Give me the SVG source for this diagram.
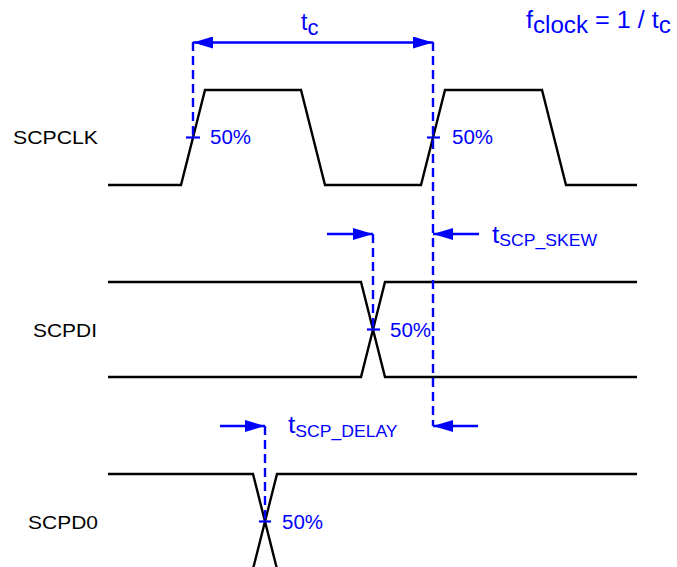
<svg xmlns="http://www.w3.org/2000/svg" width="677" height="567" viewBox="0 0 677 567">
<style>
.wave{fill:none;stroke:#000;stroke-width:2.4;stroke-linejoin:miter}
.dash{fill:none;stroke:#0000ff;stroke-width:2.4;stroke-dasharray:9,5}
.dim{fill:none;stroke:#0000ff;stroke-width:2.4}
.tick{stroke:#0000ff;stroke-width:2.2}
.lbl{font-family:"Liberation Sans",Arial,sans-serif;font-size:18.5px;fill:#000}
.blue{font-family:"Liberation Sans",Arial,sans-serif;fill:#0000ff}
</style>
<defs>
<marker id="ah" markerUnits="userSpaceOnUse" markerWidth="20" markerHeight="12" refX="20" refY="6" orient="auto-start-reverse" viewBox="0 0 20 12">
<path d="M0,0 L20,6 L0,12 Z" fill="#0000ff"/>
</marker>
</defs>
<rect width="677" height="567" fill="#fff"/>

<g id="scpclk">
<text class="lbl" x="13" y="143.5" textLength="85" lengthAdjust="spacingAndGlyphs">SCPCLK</text>
<polyline class="wave" points="108,185 181,185 205,90 301,90 325,185 421,185 445,90 542,90 566,185 637,185"/>
</g>

<g id="scpdi">
<text class="lbl" x="33" y="337" textLength="64" lengthAdjust="spacingAndGlyphs">SCPDI</text>
<polyline class="wave" points="108,282 361,282 385,377 637,377"/>
<polyline class="wave" points="108,377 361,377 385,282 637,282"/>
</g>

<g id="scpd0">
<text class="lbl" x="28" y="528.5" textLength="70" lengthAdjust="spacingAndGlyphs">SCPD0</text>
<polyline class="wave" points="108,474 253,474 277,569"/>
<polyline class="wave" points="253,569 277,474 637,474"/>
</g>

<g id="tc-label">
<text class="blue" transform="translate(301,30)" font-size="23">t<tspan font-size="22" dy="5">c</tspan></text>
</g>

<g id="fclock-label">
<text class="blue" transform="translate(526,28) scale(1.05,1)" font-size="24">f<tspan font-size="23" dy="5">clock</tspan><tspan dy="-5"> = 1 / t</tspan><tspan font-size="23" dy="5">c</tspan></text>
</g>

<g id="skew-label">
<text class="blue" transform="translate(492,243) scale(1.1,1)" font-size="24">t<tspan font-size="16" dy="3">SCP_SKEW</tspan></text>
</g>

<g id="delay-label">
<text class="blue" transform="translate(288,433) scale(1.1,1)" font-size="24">t<tspan font-size="16" dy="4">SCP_DELAY</tspan></text>
</g>

<g id="pct-labels">
<text class="blue" x="210" y="144" font-size="19.5" textLength="41" lengthAdjust="spacingAndGlyphs">50%</text>
<text class="blue" x="452" y="144" font-size="19.5" textLength="41" lengthAdjust="spacingAndGlyphs">50%</text>
<text class="blue" x="390" y="337" font-size="19.5" textLength="41" lengthAdjust="spacingAndGlyphs">50%</text>
<text class="blue" x="282" y="529" font-size="19.5" textLength="41" lengthAdjust="spacingAndGlyphs">50%</text>
</g>

<g id="connectors">
<line class="dash" x1="193" y1="42" x2="193" y2="137"/>
<line class="dash" x1="433" y1="42" x2="433" y2="426"/>
<line class="dash" x1="373" y1="234" x2="373" y2="329"/>
<line class="dash" x1="265" y1="426" x2="265" y2="521"/>
<line class="tick" x1="186" y1="137.5" x2="200" y2="137.5"/>
<line class="tick" x1="427" y1="137.5" x2="440" y2="137.5"/>
<line class="tick" x1="367" y1="329.5" x2="380" y2="329.5"/>
<line class="tick" x1="259" y1="521.5" x2="271" y2="521.5"/>
<line class="dim" x1="193" y1="42.5" x2="433" y2="42.5" marker-start="url(#ah)" marker-end="url(#ah)"/>
<line class="dim" x1="327" y1="234" x2="373" y2="234" marker-end="url(#ah)"/>
<line class="dim" x1="479" y1="234" x2="433" y2="234" marker-end="url(#ah)"/>
<line class="dim" x1="220" y1="426" x2="265" y2="426" marker-end="url(#ah)"/>
<line class="dim" x1="478" y1="426" x2="433" y2="426" marker-end="url(#ah)"/>
</g>
</svg>
